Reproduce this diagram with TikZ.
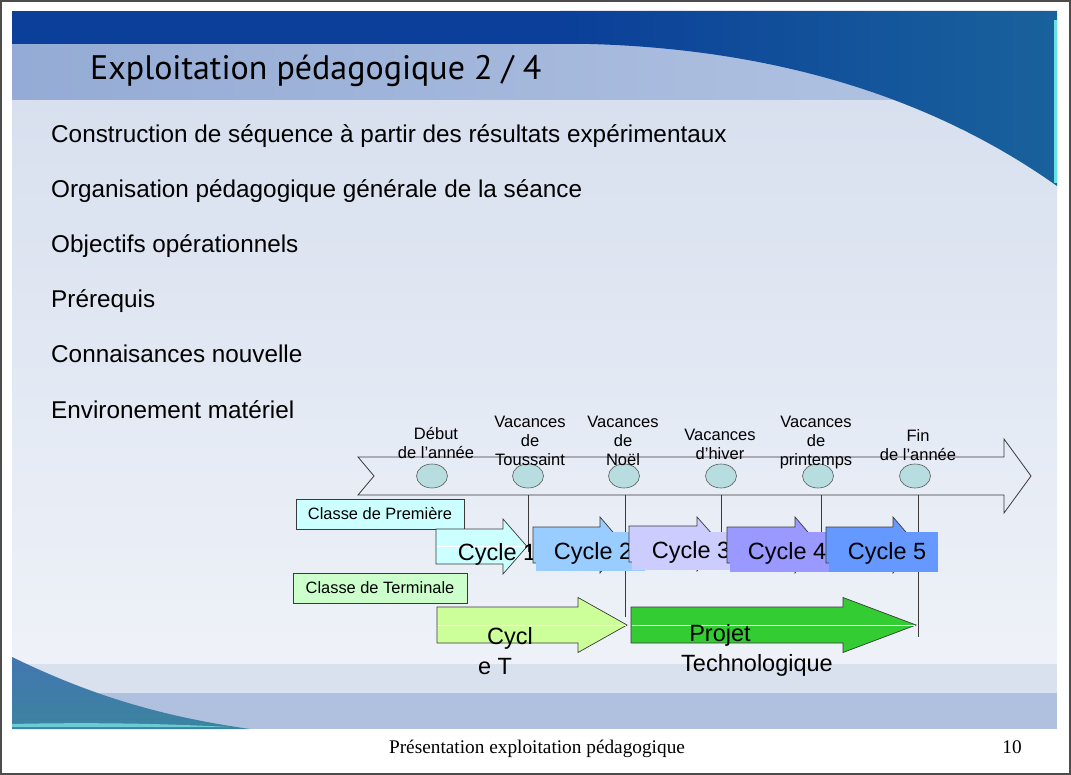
\documentclass[tikz,border=0pt]{standalone}
\usepackage{fontspec}
\setmainfont{Liberation Sans}
\newfontfamily\footfont{Liberation Serif}
\newfontfamily\headfont{PT Sans}
\usetikzlibrary{shapes.geometric}
\definecolor{topblue}{HTML}{0B3F99}
\definecolor{curveblue}{HTML}{1F5AA3}
\definecolor{bandA}{HTML}{94ABD5}
\definecolor{bandB}{HTML}{B4C5E3}
\definecolor{bodyA}{HTML}{D8E0EF}
\definecolor{bodyB}{HTML}{EEF2F8}
\definecolor{lowA}{HTML}{D9E1EE}
\definecolor{lowB}{HTML}{B0C1E0}
\definecolor{swoosh}{HTML}{4A84A8}
\definecolor{ellfill}{HTML}{B7DDE0}
\definecolor{cyc1}{HTML}{CCFFFF}
\definecolor{cyc2}{HTML}{99CCFF}
\definecolor{cyc3}{HTML}{CCCCFF}
\definecolor{cyc4}{HTML}{9999FF}
\definecolor{cyc5}{HTML}{6699FF}
\definecolor{cycT}{HTML}{CCFF99}
\definecolor{projet}{HTML}{33CC33}
\definecolor{classT}{HTML}{CCFFCC}
\definecolor{edge}{HTML}{3A3A3A}
\newcommand{\blockarrow}[7]{%
  \draw[#1] (#2,#5-#6) -- (#3,#5-#6) -- (#3,#5-#7) -- (#4,#5) -- (#3,#5+#7)
    -- (#3,#5+#6) -- (#2,#5+#6) -- cycle;}
\tikzset{
  bodytext/.style={anchor=base west, inner sep=0, font=\fontsize{24.3}{28}\selectfont},
  evlabel/.style={anchor=north, inner sep=0, align=center, font=\fontsize{16.5}{19}\selectfont},
  ell/.style={ellipse, draw=gray!70!black, fill=ellfill, minimum width=31pt, minimum height=24pt, inner sep=0, line width=0.6pt},
  classbox/.style={draw=edge, line width=0.7pt, minimum width=#1, minimum height=30pt, inner sep=0, font=\fontsize{16.4}{19}\selectfont},
  cyctext/.style={inner sep=0, font=\fontsize{23.5}{30}\selectfont},
  arr/.style={draw=edge, line width=0.7pt, fill=#1},
  tick/.style={draw=edge, line width=0.7pt},
}
\begin{document}
\begin{tikzpicture}[x=1pt,y=-1pt]
\useasboundingbox (0,0) rectangle (1071,775);
% page frame
\fill[white] (0,0) rectangle (1071,775);
\draw[gray!60!black, line width=2pt] (1,1) rectangle (1070,774);
% slide background
\shade[top color=bodyA, bottom color=bodyB] (12,100) rectangle (1057,664);
\shade[left color=bandA, right color=bandB] (12,44) rectangle (1057,100);
\fill[topblue] (12,11) rectangle (1057,44);
\shade[left color=topblue, right color=curveblue!80!teal] (560,11) -- (1057,11) -- (1057,186)
   .. controls (950,110) and (800,50) .. (590,44) -- (560,44) -- cycle;
\fill[teal!40!cyan!60!white] (1054,20) rectangle (1057,183);
\fill[lowA] (12,664) rectangle (1057,693);
\fill[lowB] (12,693) rectangle (1057,729);
\shade[top color=swoosh!90!blue, bottom color=swoosh!80!teal] (12,657) .. controls (80,690) and (150,715) .. (250,729) -- (12,729) -- cycle;
\fill[teal!30!cyan!50!white, opacity=0.7] (12,724) .. controls (100,722) and (170,724) .. (230,727) -- (12,727) -- cycle;

% title and body text
\node[anchor=base west, inner sep=0, font=\headfont\fontsize{34}{38}\selectfont] (title) at (90,80) {Exploitation pédagogique 2 / 4};
\node[bodytext] (l1) at (51,143) {Construction de séquence à partir des résultats expérimentaux};
\node[bodytext] (l2) at (51,198) {Organisation pédagogique générale de la séance};
\node[bodytext] (l3) at (51,253) {Objectifs opérationnels};
\node[bodytext] (l4) at (51,308) {Prérequis};
\node[bodytext] (l5) at (51,363) {Connaisances nouvelle};
\node[bodytext] (l6) at (51,418) {Environement matériel};

% timeline arrow
\draw[edge, line width=0.8pt] (358,457) -- (1004,457) -- (1004,439) -- (1031,476) -- (1004,513)
   -- (1004,495) -- (358,495) -- (374,476) -- cycle;
\node[ell] (e1) at (432,476) {};
\node[ell] (e2) at (528,476) {};
\node[ell] (e3) at (624,476) {};
\node[ell] (e4) at (721,476) {};
\node[ell] (e5) at (818,476) {};
\node[ell] (e6) at (915,476) {};
\node[evlabel] (t1) at (436,427) {Début\\de l’année};
\node[evlabel] (t2) at (530,416) {Vacances\\de\\Toussaint};
\node[evlabel] (t3) at (623,416) {Vacances\\de\\Noël};
\node[evlabel] (t4) at (720,429) {Vacances\\d’hiver};
\node[evlabel] (t5) at (816,416) {Vacances\\de\\printemps};
\node[evlabel] (t6) at (918,429) {Fin\\de l’année};

% vertical markers
\coordinate (v2a) at (528,495); \coordinate (v2b) at (528,552);
\coordinate (v3a) at (625,495); \coordinate (v3b) at (625,617);
\coordinate (v4a) at (721,495); \coordinate (v4b) at (721,550);
\coordinate (v5a) at (821,495); \coordinate (v5b) at (821,550);
\coordinate (v6a) at (918,495); \coordinate (v6b) at (918,637);
\draw[tick] (v2a) -- (v2b);
\draw[tick] (v3a) -- (v3b);
\draw[tick] (v4a) -- (v4b);
\draw[tick] (v5a) -- (v5b);
\draw[tick] (v6a) -- (v6b);

% class boxes
\node[classbox=168pt, fill=cyc1] (cp) at (380,514) {Classe de Première};
\node[classbox=174pt, fill=classT] (ct) at (380,588) {Classe de Terminale};

% cycles
\blockarrow{arr=cyc1}{436}{503}{527}{546.5}{17.5}{27.5}
\draw[white, line width=0.5pt] (437,546.5) -- (525,546.5);
\node[cyctext] (c1) at (497,554) {Cycle 1};
\blockarrow{arr=cyc2}{533}{600}{624}{545}{18}{28}
\fill[cyc2] (536,532) rectangle (645,571);
\node[cyctext] (c2) at (593,553) {Cycle 2};
\blockarrow{arr=cyc3}{629}{697}{721}{544}{18}{27}
\fill[cyc3] (632,532) rectangle (730,570);
\node[cyctext] (c3) at (691,552) {Cycle 3};
\blockarrow{arr=cyc4}{727}{795}{819}{545}{18}{28}
\fill[cyc4] (730,532) rectangle (838,572);
\node[cyctext] (c4) at (787,553) {Cycle 4};
\blockarrow{arr=cyc5}{826}{893}{917}{545}{18}{28}
\fill[cyc5] (829,532) rectangle (938,572);
\node[cyctext] (c5) at (887,553) {Cycle 5};

% terminale arrows
\blockarrow{arr=cycT}{437}{578}{627}{625}{18}{27.5}
\draw[white, line width=0.6pt] (438,625) -- (626,625);
\blockarrow{arr=projet}{631}{843}{916}{625}{18}{27.5}
\draw[white, line width=0.6pt] (632,625) -- (915,625);
\node[cyctext, align=center] (cT) at (495,651) {\hspace*{30pt}Cycl\\e T};
\node[cyctext, align=center] (pT) at (757,650) {\hspace*{-74pt}Projet\\Technologique};

% footer
\node[anchor=base, inner sep=0, font=\footfont\fontsize{19.3}{22}\selectfont] (foot) at (537,753) {Présentation exploitation pédagogique};
\node[anchor=base, inner sep=0, font=\footfont\fontsize{19.3}{22}\selectfont] (num) at (1012,753) {10};
\end{tikzpicture}
\end{document}
